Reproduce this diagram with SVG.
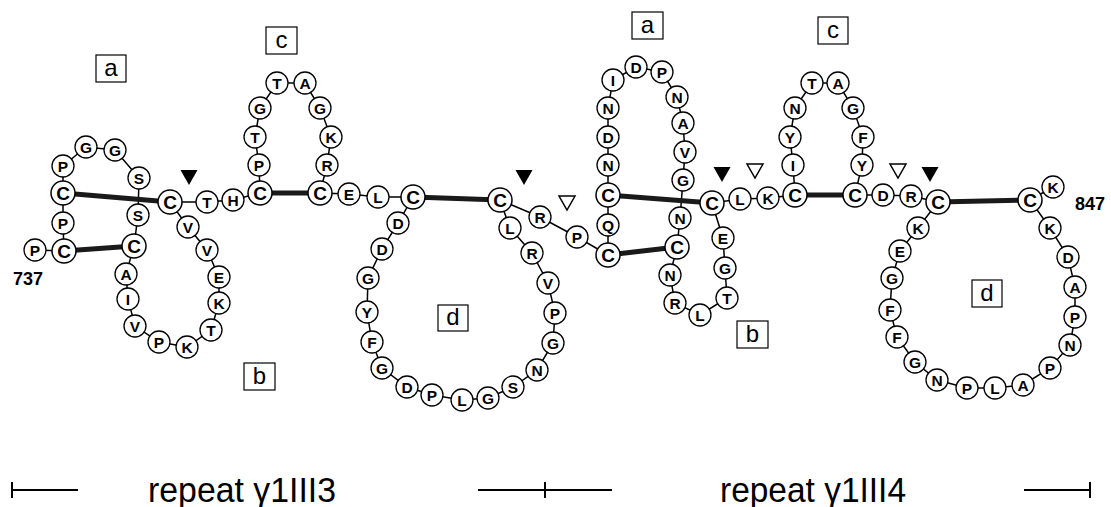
<svg xmlns="http://www.w3.org/2000/svg" width="1111" height="507" viewBox="0 0 1111 507">
<style>
.n circle{fill:#fff;stroke:#000;stroke-width:1.3}
.n text{font-family:"Liberation Sans",Arial,sans-serif;font-size:15.5px;font-weight:bold;text-anchor:middle;fill:#000}
.n.c circle{stroke-width:1.5}
.n.c text{font-weight:bold;font-size:19px}
.bb{fill:none;stroke:#000;stroke-width:1.5}
.ss{stroke:#1a1a1a;stroke-width:5;stroke-linecap:butt}
.box rect{fill:#fff;stroke:#000;stroke-width:1.2}
.box text{font-family:"Liberation Sans",Arial,sans-serif;font-size:24px;text-anchor:middle}
.tf{fill:#000}
.to{fill:#fff;stroke:#000;stroke-width:1.5}
.lbl{font-family:"Liberation Sans",Arial,sans-serif;font-size:18px;font-weight:bold;text-anchor:middle}
.rep{font-family:"Liberation Sans",Arial,sans-serif;font-size:35px}
.bar{stroke:#000;stroke-width:2;fill:none}
</style>
<g id="connectors">
<path class="bb" d="M35,250 L64,251 L63,223 L63,193 L63,166 L86,147 L115,150 L139,178 L138,215 L134,246 L126,274 L128,299 L135,326 L159,342 L187,347 L211,330 L219,303 L219,277 L207,250 L188,227 L170,202 L207,202 L233,200 L260,193 L259,165 L255,137 L260,108 L277,83 L305,83 L320,108 L331,137 L327,165 L320,193 L349,194 L378,197 L413,197 L398,223 L382,249 L368,278 L367,312 L372,342 L382,368 L407,387 L432,395 L462,400 L488,398 L513,387 L537,370 L553,343 L555,313 L548,283 L532,253 L510,228 L500,200 L540,217 L577,237 L608,255 L608,225 L608,195 L608,165 L608,137 L608,108 L613,80 L636,67 L662,72 L677,97 L683,123 L685,152 L683,180 L680,218 L677,247 L670,275 L675,303 L700,315 L727,298 L725,268 L723,238 L712,203 L740,199 L768,198 L795,195 L793,165 L790,137 L795,108 L812,83 L838,83 L853,108 L863,137 L862,165 L855,195 L883,195 L911,196 L938,202 L918,228 L900,251 L892,278 L890,310 L897,337 L915,362 L937,380 L967,388 L995,388 L1023,385 L1050,368 L1070,345 L1075,317 L1075,287 L1068,257 L1050,228 L1030,200 L1053,187"/>
<line class="ss" x1="63" y1="193" x2="170" y2="202"/>
<line class="ss" x1="64" y1="251" x2="134" y2="246"/>
<line class="ss" x1="260" y1="193" x2="320" y2="193"/>
<line class="ss" x1="413" y1="197" x2="500" y2="200"/>
<line class="ss" x1="608" y1="195" x2="712" y2="203"/>
<line class="ss" x1="608" y1="255" x2="677" y2="247"/>
<line class="ss" x1="795" y1="195" x2="855" y2="195"/>
<line class="ss" x1="938" y1="202" x2="1030" y2="200"/>
</g>
<g id="r1" class="n"><circle cx="35" cy="250" r="11"/><text x="35" y="255.5">P</text></g>
<g id="r2" class="n c"><circle cx="64" cy="251" r="12"/><text x="64" y="258">C</text></g>
<g id="r3" class="n"><circle cx="63" cy="223" r="11"/><text x="63" y="228.5">P</text></g>
<g id="r4" class="n c"><circle cx="63" cy="193" r="12"/><text x="63" y="200">C</text></g>
<g id="r5" class="n"><circle cx="63" cy="166" r="11"/><text x="63" y="171.5">P</text></g>
<g id="r6" class="n"><circle cx="86" cy="147" r="11"/><text x="86" y="152.5">G</text></g>
<g id="r7" class="n"><circle cx="115" cy="150" r="11"/><text x="115" y="155.5">G</text></g>
<g id="r8" class="n"><circle cx="139" cy="178" r="11"/><text x="139" y="183.5">S</text></g>
<g id="r9" class="n"><circle cx="138" cy="215" r="11"/><text x="138" y="220.5">S</text></g>
<g id="r10" class="n c"><circle cx="134" cy="246" r="12"/><text x="134" y="253">C</text></g>
<g id="r11" class="n"><circle cx="126" cy="274" r="11"/><text x="126" y="279.5">A</text></g>
<g id="r12" class="n"><circle cx="128" cy="299" r="11"/><text x="128" y="304.5">I</text></g>
<g id="r13" class="n"><circle cx="135" cy="326" r="11"/><text x="135" y="331.5">V</text></g>
<g id="r14" class="n"><circle cx="159" cy="342" r="11"/><text x="159" y="347.5">P</text></g>
<g id="r15" class="n"><circle cx="187" cy="347" r="11"/><text x="187" y="352.5">K</text></g>
<g id="r16" class="n"><circle cx="211" cy="330" r="11"/><text x="211" y="335.5">T</text></g>
<g id="r17" class="n"><circle cx="219" cy="303" r="11"/><text x="219" y="308.5">K</text></g>
<g id="r18" class="n"><circle cx="219" cy="277" r="11"/><text x="219" y="282.5">E</text></g>
<g id="r19" class="n"><circle cx="207" cy="250" r="11"/><text x="207" y="255.5">V</text></g>
<g id="r20" class="n"><circle cx="188" cy="227" r="11"/><text x="188" y="232.5">V</text></g>
<g id="r21" class="n c"><circle cx="170" cy="202" r="12"/><text x="170" y="209">C</text></g>
<g id="r22" class="n"><circle cx="207" cy="202" r="11"/><text x="207" y="207.5">T</text></g>
<g id="r23" class="n"><circle cx="233" cy="200" r="11"/><text x="233" y="205.5">H</text></g>
<g id="r24" class="n c"><circle cx="260" cy="193" r="12"/><text x="260" y="200">C</text></g>
<g id="r25" class="n"><circle cx="259" cy="165" r="11"/><text x="259" y="170.5">P</text></g>
<g id="r26" class="n"><circle cx="255" cy="137" r="11"/><text x="255" y="142.5">T</text></g>
<g id="r27" class="n"><circle cx="260" cy="108" r="11"/><text x="260" y="113.5">G</text></g>
<g id="r28" class="n"><circle cx="277" cy="83" r="11"/><text x="277" y="88.5">T</text></g>
<g id="r29" class="n"><circle cx="305" cy="83" r="11"/><text x="305" y="88.5">A</text></g>
<g id="r30" class="n"><circle cx="320" cy="108" r="11"/><text x="320" y="113.5">G</text></g>
<g id="r31" class="n"><circle cx="331" cy="137" r="11"/><text x="331" y="142.5">K</text></g>
<g id="r32" class="n"><circle cx="327" cy="165" r="11"/><text x="327" y="170.5">R</text></g>
<g id="r33" class="n c"><circle cx="320" cy="193" r="12"/><text x="320" y="200">C</text></g>
<g id="r34" class="n"><circle cx="349" cy="194" r="11"/><text x="349" y="199.5">E</text></g>
<g id="r35" class="n"><circle cx="378" cy="197" r="11"/><text x="378" y="202.5">L</text></g>
<g id="r36" class="n c"><circle cx="413" cy="197" r="12"/><text x="413" y="204">C</text></g>
<g id="r37" class="n"><circle cx="398" cy="223" r="11"/><text x="398" y="228.5">D</text></g>
<g id="r38" class="n"><circle cx="382" cy="249" r="11"/><text x="382" y="254.5">D</text></g>
<g id="r39" class="n"><circle cx="368" cy="278" r="11"/><text x="368" y="283.5">G</text></g>
<g id="r40" class="n"><circle cx="367" cy="312" r="11"/><text x="367" y="317.5">Y</text></g>
<g id="r41" class="n"><circle cx="372" cy="342" r="11"/><text x="372" y="347.5">F</text></g>
<g id="r42" class="n"><circle cx="382" cy="368" r="11"/><text x="382" y="373.5">G</text></g>
<g id="r43" class="n"><circle cx="407" cy="387" r="11"/><text x="407" y="392.5">D</text></g>
<g id="r44" class="n"><circle cx="432" cy="395" r="11"/><text x="432" y="400.5">P</text></g>
<g id="r45" class="n"><circle cx="462" cy="400" r="11"/><text x="462" y="405.5">L</text></g>
<g id="r46" class="n"><circle cx="488" cy="398" r="11"/><text x="488" y="403.5">G</text></g>
<g id="r47" class="n"><circle cx="513" cy="387" r="11"/><text x="513" y="392.5">S</text></g>
<g id="r48" class="n"><circle cx="537" cy="370" r="11"/><text x="537" y="375.5">N</text></g>
<g id="r49" class="n"><circle cx="553" cy="343" r="11"/><text x="553" y="348.5">G</text></g>
<g id="r50" class="n"><circle cx="555" cy="313" r="11"/><text x="555" y="318.5">P</text></g>
<g id="r51" class="n"><circle cx="548" cy="283" r="11"/><text x="548" y="288.5">V</text></g>
<g id="r52" class="n"><circle cx="532" cy="253" r="11"/><text x="532" y="258.5">R</text></g>
<g id="r53" class="n"><circle cx="510" cy="228" r="11"/><text x="510" y="233.5">L</text></g>
<g id="r54" class="n c"><circle cx="500" cy="200" r="12"/><text x="500" y="207">C</text></g>
<g id="r55" class="n"><circle cx="540" cy="217" r="11"/><text x="540" y="222.5">R</text></g>
<g id="r56" class="n"><circle cx="577" cy="237" r="11"/><text x="577" y="242.5">P</text></g>
<g id="r57" class="n c"><circle cx="608" cy="255" r="12"/><text x="608" y="262">C</text></g>
<g id="r58" class="n"><circle cx="608" cy="225" r="11"/><text x="608" y="230.5">Q</text></g>
<g id="r59" class="n c"><circle cx="608" cy="195" r="12"/><text x="608" y="202">C</text></g>
<g id="r60" class="n"><circle cx="608" cy="165" r="11"/><text x="608" y="170.5">N</text></g>
<g id="r61" class="n"><circle cx="608" cy="137" r="11"/><text x="608" y="142.5">D</text></g>
<g id="r62" class="n"><circle cx="608" cy="108" r="11"/><text x="608" y="113.5">N</text></g>
<g id="r63" class="n"><circle cx="613" cy="80" r="11"/><text x="613" y="85.5">I</text></g>
<g id="r64" class="n"><circle cx="636" cy="67" r="11"/><text x="636" y="72.5">D</text></g>
<g id="r65" class="n"><circle cx="662" cy="72" r="11"/><text x="662" y="77.5">P</text></g>
<g id="r66" class="n"><circle cx="677" cy="97" r="11"/><text x="677" y="102.5">N</text></g>
<g id="r67" class="n"><circle cx="683" cy="123" r="11"/><text x="683" y="128.5">A</text></g>
<g id="r68" class="n"><circle cx="685" cy="152" r="11"/><text x="685" y="157.5">V</text></g>
<g id="r69" class="n"><circle cx="683" cy="180" r="11"/><text x="683" y="185.5">G</text></g>
<g id="r70" class="n"><circle cx="680" cy="218" r="11"/><text x="680" y="223.5">N</text></g>
<g id="r71" class="n c"><circle cx="677" cy="247" r="12"/><text x="677" y="254">C</text></g>
<g id="r72" class="n"><circle cx="670" cy="275" r="11"/><text x="670" y="280.5">N</text></g>
<g id="r73" class="n"><circle cx="675" cy="303" r="11"/><text x="675" y="308.5">R</text></g>
<g id="r74" class="n"><circle cx="700" cy="315" r="11"/><text x="700" y="320.5">L</text></g>
<g id="r75" class="n"><circle cx="727" cy="298" r="11"/><text x="727" y="303.5">T</text></g>
<g id="r76" class="n"><circle cx="725" cy="268" r="11"/><text x="725" y="273.5">G</text></g>
<g id="r77" class="n"><circle cx="723" cy="238" r="11"/><text x="723" y="243.5">E</text></g>
<g id="r78" class="n c"><circle cx="712" cy="203" r="12"/><text x="712" y="210">C</text></g>
<g id="r79" class="n"><circle cx="740" cy="199" r="11"/><text x="740" y="204.5">L</text></g>
<g id="r80" class="n"><circle cx="768" cy="198" r="11"/><text x="768" y="203.5">K</text></g>
<g id="r81" class="n c"><circle cx="795" cy="195" r="12"/><text x="795" y="202">C</text></g>
<g id="r82" class="n"><circle cx="793" cy="165" r="11"/><text x="793" y="170.5">I</text></g>
<g id="r83" class="n"><circle cx="790" cy="137" r="11"/><text x="790" y="142.5">Y</text></g>
<g id="r84" class="n"><circle cx="795" cy="108" r="11"/><text x="795" y="113.5">N</text></g>
<g id="r85" class="n"><circle cx="812" cy="83" r="11"/><text x="812" y="88.5">T</text></g>
<g id="r86" class="n"><circle cx="838" cy="83" r="11"/><text x="838" y="88.5">A</text></g>
<g id="r87" class="n"><circle cx="853" cy="108" r="11"/><text x="853" y="113.5">G</text></g>
<g id="r88" class="n"><circle cx="863" cy="137" r="11"/><text x="863" y="142.5">F</text></g>
<g id="r89" class="n"><circle cx="862" cy="165" r="11"/><text x="862" y="170.5">Y</text></g>
<g id="r90" class="n c"><circle cx="855" cy="195" r="12"/><text x="855" y="202">C</text></g>
<g id="r91" class="n"><circle cx="883" cy="195" r="11"/><text x="883" y="200.5">D</text></g>
<g id="r92" class="n"><circle cx="911" cy="196" r="11"/><text x="911" y="201.5">R</text></g>
<g id="r93" class="n c"><circle cx="938" cy="202" r="12"/><text x="938" y="209">C</text></g>
<g id="r94" class="n"><circle cx="918" cy="228" r="11"/><text x="918" y="233.5">K</text></g>
<g id="r95" class="n"><circle cx="900" cy="251" r="11"/><text x="900" y="256.5">E</text></g>
<g id="r96" class="n"><circle cx="892" cy="278" r="11"/><text x="892" y="283.5">G</text></g>
<g id="r97" class="n"><circle cx="890" cy="310" r="11"/><text x="890" y="315.5">F</text></g>
<g id="r98" class="n"><circle cx="897" cy="337" r="11"/><text x="897" y="342.5">F</text></g>
<g id="r99" class="n"><circle cx="915" cy="362" r="11"/><text x="915" y="367.5">G</text></g>
<g id="r100" class="n"><circle cx="937" cy="380" r="11"/><text x="937" y="385.5">N</text></g>
<g id="r101" class="n"><circle cx="967" cy="388" r="11"/><text x="967" y="393.5">P</text></g>
<g id="r102" class="n"><circle cx="995" cy="388" r="11"/><text x="995" y="393.5">L</text></g>
<g id="r103" class="n"><circle cx="1023" cy="385" r="11"/><text x="1023" y="390.5">A</text></g>
<g id="r104" class="n"><circle cx="1050" cy="368" r="11"/><text x="1050" y="373.5">P</text></g>
<g id="r105" class="n"><circle cx="1070" cy="345" r="11"/><text x="1070" y="350.5">N</text></g>
<g id="r106" class="n"><circle cx="1075" cy="317" r="11"/><text x="1075" y="322.5">P</text></g>
<g id="r107" class="n"><circle cx="1075" cy="287" r="11"/><text x="1075" y="292.5">A</text></g>
<g id="r108" class="n"><circle cx="1068" cy="257" r="11"/><text x="1068" y="262.5">D</text></g>
<g id="r109" class="n"><circle cx="1050" cy="228" r="11"/><text x="1050" y="233.5">K</text></g>
<g id="r110" class="n c"><circle cx="1030" cy="200" r="12"/><text x="1030" y="207">C</text></g>
<g id="r111" class="n"><circle cx="1053" cy="187" r="11"/><text x="1053" y="192.5">K</text></g>
<g id="boxes">
<g id="box-a1" class="box"><rect x="96" y="55" width="30" height="27"/><text x="111" y="76">a</text></g>
<g id="box-b1" class="box"><rect x="244" y="363" width="31" height="27"/><text x="259.5" y="384">b</text></g>
<g id="box-c1" class="box"><rect x="266" y="27" width="31" height="27"/><text x="281.5" y="48">c</text></g>
<g id="box-d1" class="box"><rect x="438" y="305" width="30" height="26"/><text x="453" y="325">d</text></g>
<g id="box-a2" class="box"><rect x="632" y="12" width="31" height="27"/><text x="647.5" y="33">a</text></g>
<g id="box-b2" class="box"><rect x="737" y="321" width="31" height="27"/><text x="752.5" y="342">b</text></g>
<g id="box-c2" class="box"><rect x="818" y="17" width="30" height="27"/><text x="833" y="38">c</text></g>
<g id="box-d2" class="box"><rect x="972" y="280" width="30" height="27"/><text x="987" y="301">d</text></g>
</g>
<g id="markers">
<polygon class="tf" points="180.5,170 197.5,170 189,185"/>
<polygon class="tf" points="515.5,170 532.5,170 524,185"/>
<polygon class="to" points="559,196 575,196 567,210"/>
<polygon class="tf" points="713.5,167 730.5,167 722,182"/>
<polygon class="to" points="747,164 763,164 755,178"/>
<polygon class="to" points="890,164 906,164 898,178"/>
<polygon class="tf" points="921.5,167 938.5,167 930,182"/>
</g>
<g id="labels">
<text class="lbl" x="28" y="285">737</text>
<text class="lbl" x="1090" y="210">847</text>
</g>
<g id="repeats">
<path class="bar" d="M12,482 V498 M12,490 H78"/>
<text class="rep" x="148" y="502" textLength="188" lengthAdjust="spacingAndGlyphs">repeat γ1III3</text>
<path class="bar" d="M478,490 H612 M545,482 V498"/>
<text class="rep" x="720" y="502" textLength="186" lengthAdjust="spacingAndGlyphs">repeat γ1III4</text>
<path class="bar" d="M1024,490 H1090 M1090,482 V498"/>
</g>
</svg>
